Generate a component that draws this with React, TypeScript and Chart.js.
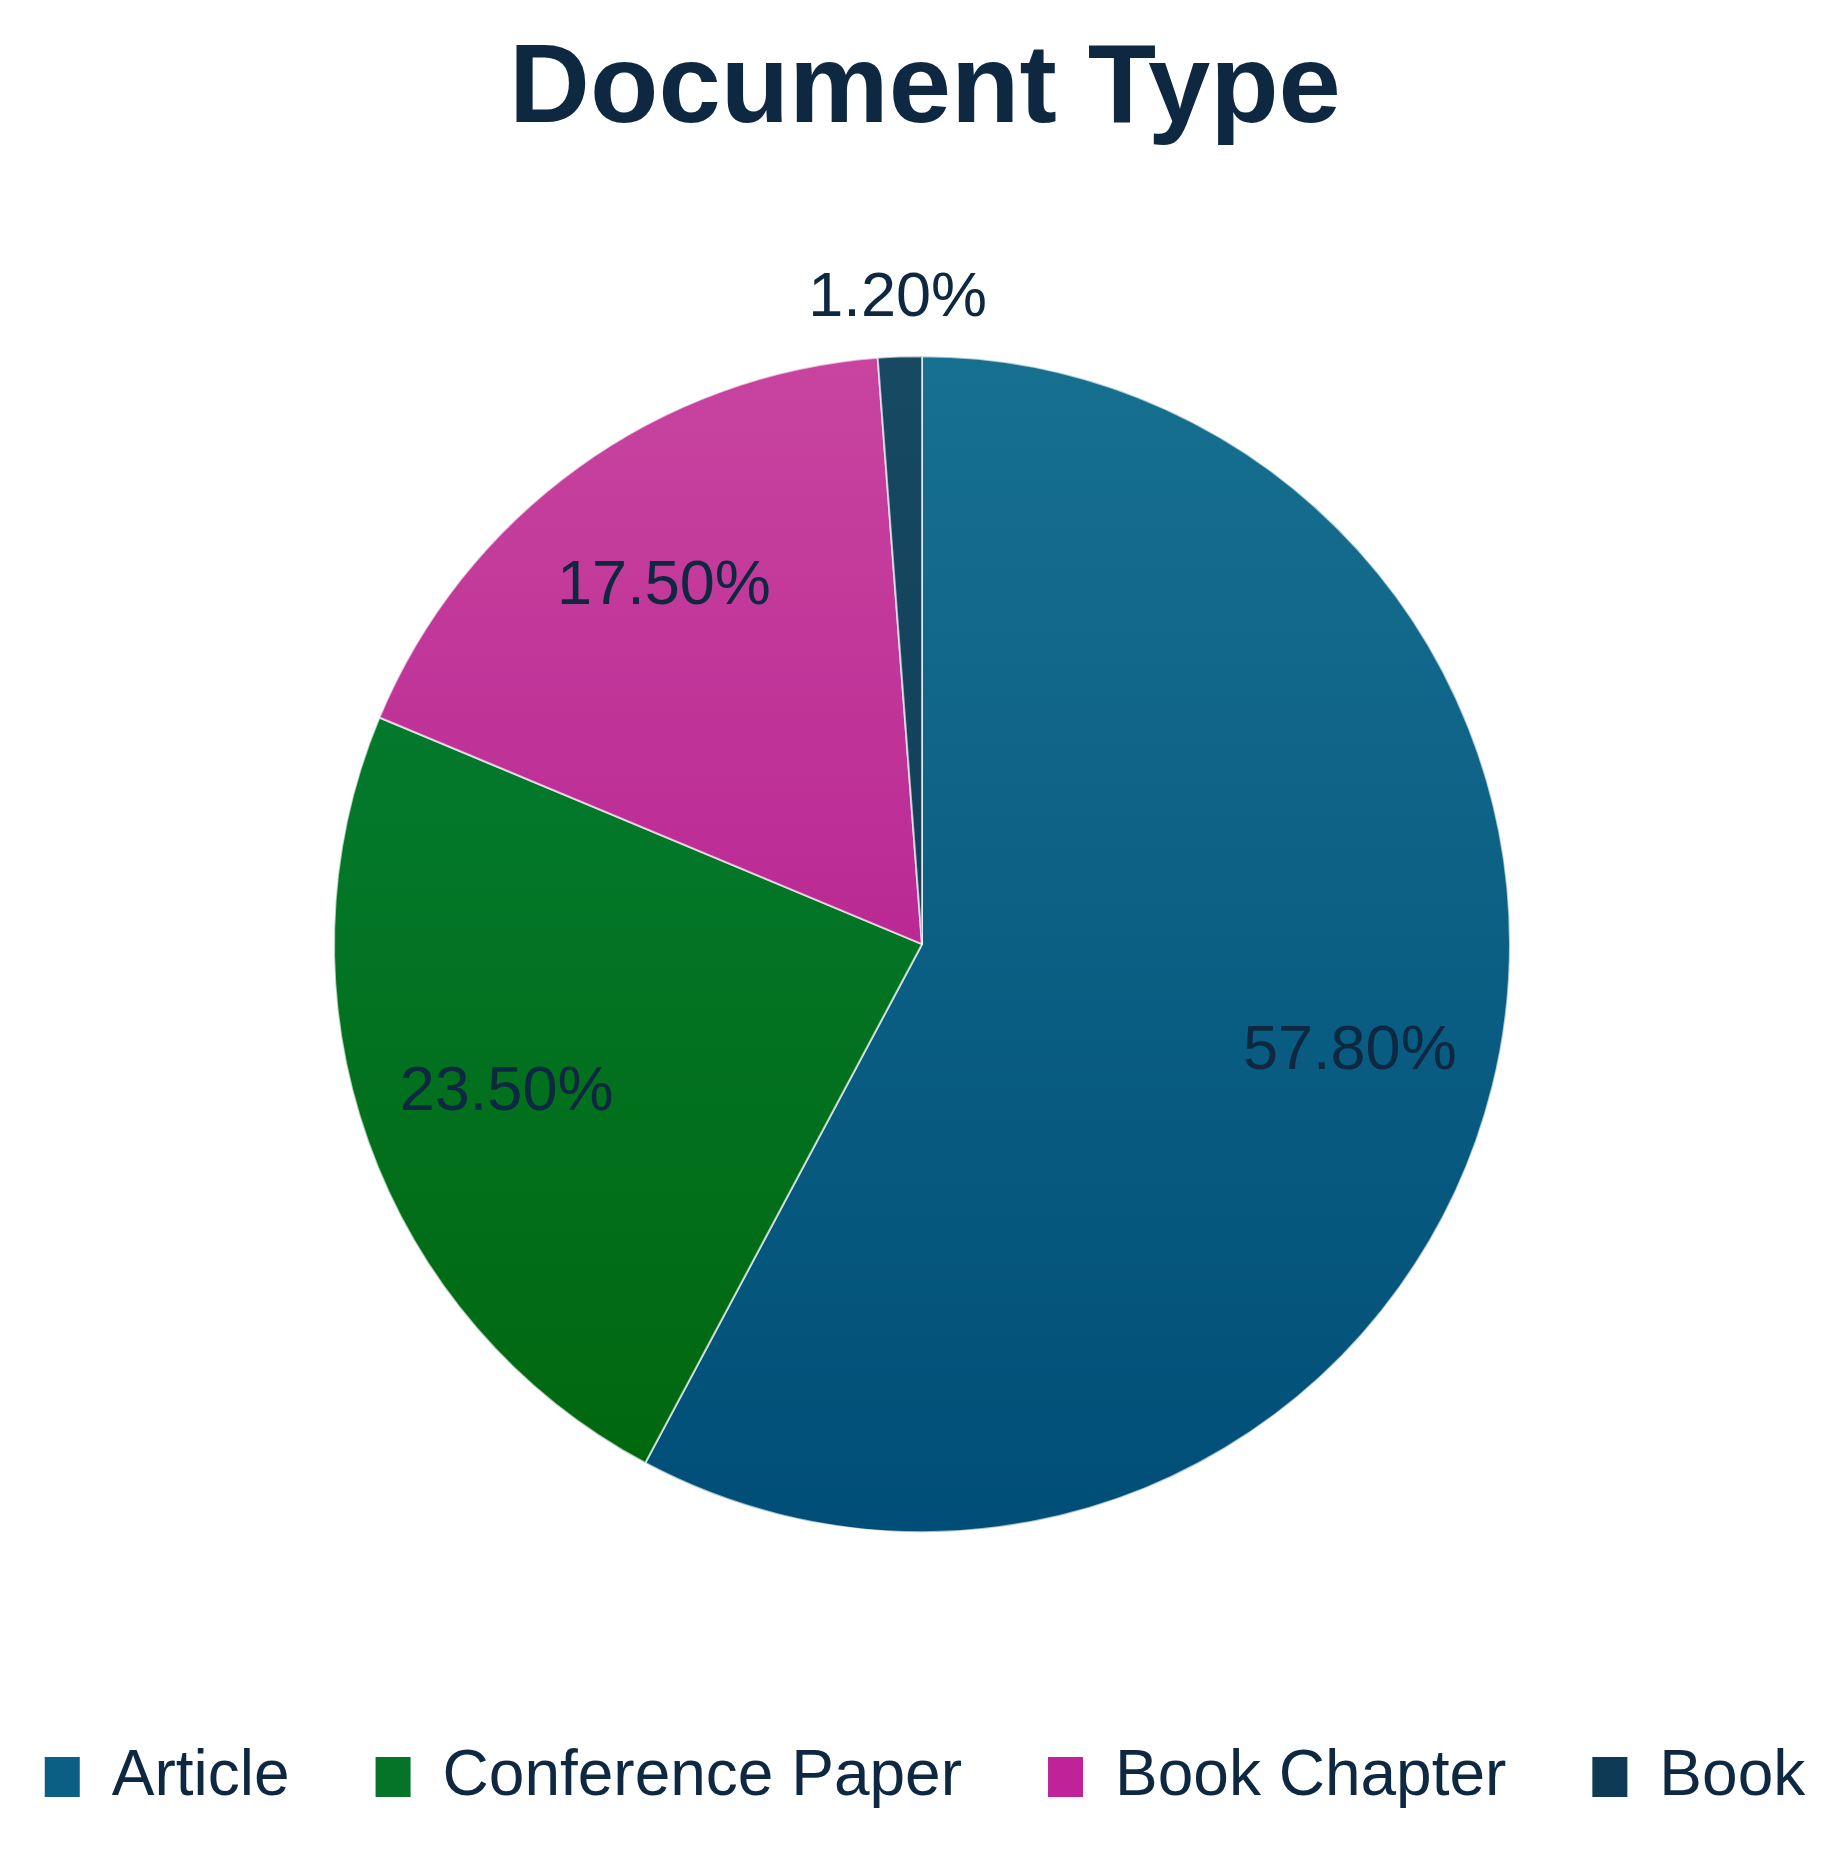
import React, { useEffect, useRef } from "react";
import { Chart, registerables } from "chart.js";

Chart.register(...registerables);

// ---- data ----
const categories = ["Article", "Conference Paper", "Book Chapter", "Book"];
const shares = [57.8, 23.5, 17.5, 1.2];
const chartTitle = "Document Type";

// ---- styles ----
const FONT = '"Liberation Sans", Arial, Helvetica, sans-serif';
const TEXT = "#0e2841";
const gradTop = ["#17708f", "#05823c", "#c8449f", "#174962"];
const gradBottom = ["#004e78", "#00660c", "#ad0f89", "#0d3550"];
const legendColors = ["#0b5e84", "#047428", "#c0229a", "#0e3a55"];
const PIE_R = 588;

const sliceLabels = {
  id: "sliceLabels",
  afterDatasetsDraw(chart: any) {
    const ctx = chart.ctx;
    const meta = chart.getDatasetMeta(0);
    const total = shares.reduce((a, b) => a + b, 0);
    ctx.save();
    ctx.font = `63px ${FONT}`;
    ctx.fillStyle = TEXT;
    ctx.textAlign = "center";
    ctx.textBaseline = "middle";
    meta.data.forEach((arc: any, i: number) => {
      const p = arc.getProps(["x", "y", "startAngle", "endAngle", "outerRadius"], true);
      const mid = (p.startAngle + p.endAngle) / 2;
      const frac = shares[i] / total;
      const dist = frac < 0.05 ? p.outerRadius + 58 : p.outerRadius * 0.75;
      ctx.fillText(shares[i].toFixed(2) + "%", p.x + Math.cos(mid) * dist, p.y + Math.sin(mid) * dist);
    });
    ctx.restore();
  },
};

export default function App() {
  const ref = useRef<HTMLCanvasElement | null>(null);
  useEffect(() => {
    if (!ref.current) return;
    const chart = new Chart(ref.current, {
      type: "pie",
      data: {
        labels: categories,
        datasets: [
          {
            data: shares,
            radius: PIE_R,
            borderColor: "rgba(255,255,255,0.65)",
            borderWidth: 2,
            backgroundColor: (c: any) => {
              const ch = c.chart;
              const area = ch.chartArea;
              const i = c.dataIndex ?? 0;
              if (!area) return gradTop[i];
              const cy = (area.top + area.bottom) / 2;
              const g = ch.ctx.createLinearGradient(0, cy - PIE_R, 0, cy + PIE_R);
              g.addColorStop(0, gradTop[i]);
              g.addColorStop(1, gradBottom[i]);
              return g;
            },
          },
        ],
      },
      options: {
        responsive: false,
        animation: false,
        layout: { padding: { left: -57, right: -63, top: 0, bottom: 23 } },
        plugins: {
          title: {
            display: true,
            text: chartTitle,
            color: TEXT,
            font: { family: FONT, size: 112, weight: "bold", lineHeight: 1.2 },
            padding: { top: 16, bottom: 71 },
          },
          legend: {
            display: true,
            position: "bottom",
            labels: {
              color: TEXT,
              font: { family: FONT, size: 64 },
              boxWidth: 35,
              boxHeight: 40,
              padding: 86,
              generateLabels: (ch: any) => {
                const base = (Chart as any).overrides.pie.plugins.legend.labels.generateLabels(ch);
                return base.map((it: any, i: number) => ({
                  ...it,
                  fillStyle: legendColors[i],
                  strokeStyle: legendColors[i],
                  lineWidth: 0,
                }));
              },
            },
          },
          tooltip: { enabled: false },
        },
      },
      plugins: [sliceLabels],
    } as any);
    return () => chart.destroy();
  }, []);
  return (
    <canvas
      ref={ref}
      width={1828}
      height={1834}
      style={{ display: "block", width: 1828, height: 1834 }}
    />
  );
}
